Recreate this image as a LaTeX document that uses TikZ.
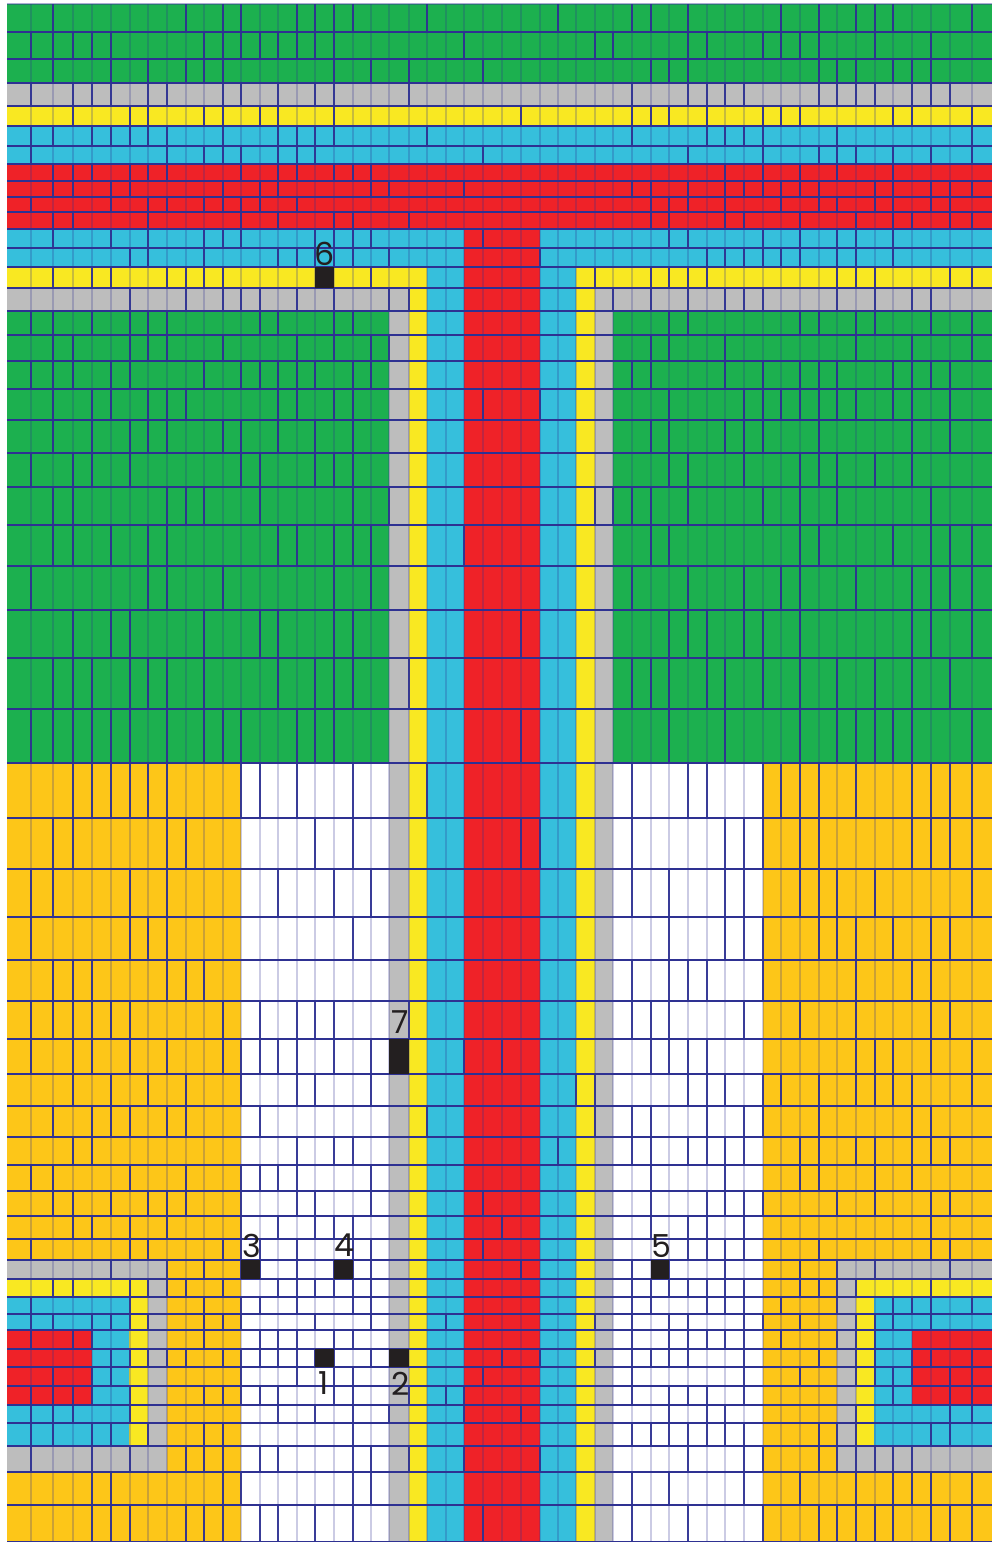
\documentclass[tikz,border=0pt]{standalone}
\usepackage{fontspec}
\setmainfont{Poppins}
\definecolor{meshgreen}{HTML}{1CB04F}
\definecolor{meshgrey}{HTML}{BDBDBD}
\definecolor{meshyellow}{HTML}{F9E822}
\definecolor{meshcyan}{HTML}{36BFDC}
\definecolor{meshred}{HTML}{EF2228}
\definecolor{meshorange}{HTML}{FDC618}
\definecolor{meshline}{HTML}{2E3192}
\definecolor{meshblack}{HTML}{231F20}

\begin{document}
\begin{tikzpicture}[x=0.01cm,y=-0.01cm,
	every node/.style={font=\fontsize{9}{9}\selectfont, text=meshblack, inner sep=0pt},
	gridline/.style={meshline, line width=0.3pt},
	sensor/.style={fill=meshblack}]
	\useasboundingbox (0,0) rectangle (992,1542);
	\pgfmathsetseed{41}
	\begin{scope}
		\fill[meshgreen] (7,4) rectangle (992,83);
		\fill[meshgrey] (7,83) rectangle (992,106);
		\fill[meshyellow] (7,106) rectangle (992,126);
		\fill[meshcyan] (7,126) rectangle (992,164);
		\fill[meshred] (7,164) rectangle (992,229);
		\fill[meshcyan] (7,229) rectangle (992,267);
		\fill[meshyellow] (7,267) rectangle (427,288);
		\fill[meshyellow] (576,267) rectangle (992,288);
		\fill[meshgrey] (7,288) rectangle (409,311);
		\fill[meshgrey] (595,288) rectangle (992,311);
		\fill[meshgreen] (7,311) rectangle (389,763);
		\fill[meshgreen] (613,311) rectangle (992,763);
		\fill[meshorange] (7,763) rectangle (241,1542);
		\fill[meshorange] (763,763) rectangle (992,1542);
		\fill[meshgrey] (389,311) rectangle (409,1542);
		\fill[meshyellow] (409,288) rectangle (427,1542);
		\fill[meshcyan] (427,267) rectangle (464,1542);
		\fill[meshred] (464,229) rectangle (540,1542);
		\fill[meshcyan] (540,267) rectangle (576,1542);
		\fill[meshyellow] (576,288) rectangle (595,1542);
		\fill[meshgrey] (595,311) rectangle (613,1542);
	\end{scope}
	\begin{scope}
		\fill[meshgrey] (7,1260) rectangle (167,1472);
		\fill[meshyellow] (7,1279) rectangle (148,1446);
		\fill[meshcyan] (7,1297) rectangle (129,1446);
		\fill[meshred] (7,1330) rectangle (92,1405);
		\fill[meshgrey] (837,1260) rectangle (992,1472);
		\fill[meshyellow] (856,1279) rectangle (992,1446);
		\fill[meshcyan] (874,1297) rectangle (992,1446);
		\fill[meshred] (912,1330) rectangle (992,1405);
	\end{scope}
	\foreach \yb [remember=\yb as \ya (initially 4)] in {32,59,83,106,126,146,164,181,197,212,229,248,267,288,311,335,361,389,420,453,487,525,566,610,658,709,763,818,869,917,960,1001,1039,1074,1106,1137,1165,1191,1216,1239,1260,1279,1297,1314,1330,1349,1367,1386,1405,1423,1446,1472,1505,1542}{
		\foreach \xc in {31,53,73,92,111,130,148,167,186,204,223,241,260,278,297,315,334,353,371,389,409,427,446,464,483,502,521,540,558,576,595,613,632,651,669,688,707,725,744,763,781,800,819,837,856,875,893,912,931,950,972}{
			\pgfmathsetmacro\lineop{rnd<((\xc>380 && \xc<620) ? 0.1 : 0.5) ? 0.95 : 0.25}
			\draw[gridline, opacity=\lineop] (\xc,\ya) -- (\xc,\yb);
		}
		\draw[gridline] (7,\yb) -- (992,\yb);
	}
	\draw[gridline, opacity=0.4] (7,4) -- (992,4);
	\fill[sensor] (315,267) rectangle (334,288);
	\fill[sensor] (389,1039) rectangle (409,1074);
	\fill[sensor] (241,1260) rectangle (260,1279);
	\fill[sensor] (334,1260) rectangle (353,1279);
	\fill[sensor] (651,1260) rectangle (669,1279);
	\fill[sensor] (315,1349) rectangle (334,1367);
	\fill[sensor] (389,1349) rectangle (409,1367);
	\node (lab1) at (324,1383) {1};
	\node (lab2) at (401,1384) {2};
	\node (lab3) at (252,1246) {3};
	\node (lab4) at (344,1245) {4};
	\node (lab5) at (661,1246) {5};
	\node (lab6) at (325,254) {6};
	\node (lab7) at (400,1022) {7};
\end{tikzpicture}
\end{document}
